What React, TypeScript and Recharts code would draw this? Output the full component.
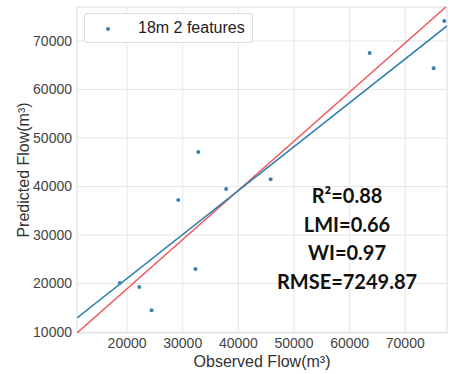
import React from 'react';
import {
    ComposedChart,
    Scatter,
    XAxis,
    YAxis,
    CartesianGrid,
    ReferenceLine,
    Legend,
} from 'recharts';

/* ── Data ────────────────────────────────────────────────────────────────── */
const observed  = [18700, 22200, 24400, 29200, 32300, 32800, 37800, 45800, 63600, 75100, 77000];
const predicted = [20100, 19300, 14500, 37200, 23000, 47100, 39500, 41500, 67500, 64400, 74100];

// fitted regression line end points and the 1:1 line end points
const fitX   = [11000, 77500];
const fitY   = [12900, 73100];
const idealX = [11000, 77300];
const idealY = [9800, 77000];

const xTicks = [20000, 30000, 40000, 50000, 60000, 70000];
const yTicks = [10000, 20000, 30000, 40000, 50000, 60000, 70000];
const X_DOMAIN: [number, number] = [11000, 77500];
const Y_DOMAIN: [number, number] = [9800, 77000];

const stats = ['R²=0.88', 'LMI=0.66', 'WI=0.97', 'RMSE=7249.87'];
const SERIES_NAME = '18m 2 features';

const points = observed.map((x, i) => ({ x, y: predicted[i] }));
const fitLine = fitX.map((x, i) => ({ x, y: fitY[i] }));
const idealLine = idealX.map((x, i) => ({ x, y: idealY[i] }));

const POINT_COLOR = '#3b7fb3';
const FIT_COLOR   = '#2f7fae';
const IDEAL_COLOR = '#ee5a5e';
const GRID_COLOR  = '#e6e6e6';
const TICK_FONT   = '"Liberation Sans", Arial, sans-serif';

const noShape = () => <g />;

/* ── Legend ──────────────────────────────────────────────────────────────── */
const LegendBox = () => (
    <div style={{
        background: '#fff',
        border: '1px solid #dcdcdc',
        borderRadius: 3,
        width: 169,
        height: 30,
        boxSizing: 'border-box',
        display: 'flex',
        alignItems: 'center',
        fontFamily: TICK_FONT,
        fontSize: 16,
        color: '#222',
    }}>
        <svg width={53} height={28}>
            <circle cx={23} cy={15} r={2} fill={POINT_COLOR} />
        </svg>
        <span>{SERIES_NAME}</span>
    </div>
);

const YLabel = ({ viewBox }: any) => {
    const cx = 23;
    const cy = viewBox.y + viewBox.height / 2;
    return (
        <text x={cx} y={cy} transform={`rotate(-90, ${cx}, ${cy})`}
              textAnchor="middle" dominantBaseline="central"
              fill="#333" fontSize={16} fontFamily={TICK_FONT}>
            Predicted Flow(m³)
        </text>
    );
};

export default function App() {
    return (
        <div style={{ position: 'absolute', left: 0, top: 0, width: 455, height: 374, background: '#fff' }}>
            <ComposedChart width={455} height={374} margin={{ top: 7, right: 8, left: 0, bottom: 0 }}>
                <CartesianGrid stroke={GRID_COLOR} strokeWidth={1} />
                <XAxis
                    type="number"
                    dataKey="x"
                    domain={X_DOMAIN}
                    ticks={xTicks}
                    allowDataOverflow
                    height={41}
                    tickSize={0}
                    tickMargin={5}
                    tickLine={false}
                    axisLine={{ stroke: GRID_COLOR }}
                    tick={{ fill: '#444', fontSize: 14, fontFamily: TICK_FONT }}
                    label={{ value: 'Observed Flow(m³)', position: 'insideBottom', offset: 7,
                             fill: '#333', fontSize: 16, fontFamily: TICK_FONT }}
                />
                <YAxis
                    type="number"
                    dataKey="y"
                    domain={Y_DOMAIN}
                    ticks={yTicks}
                    allowDataOverflow
                    width={77}
                    tickSize={0}
                    tickMargin={5}
                    tickLine={false}
                    axisLine={{ stroke: GRID_COLOR }}
                    tick={{ fill: '#444', fontSize: 14, fontFamily: TICK_FONT }}
                    label={<YLabel />}
                />
                <ReferenceLine x={X_DOMAIN[1]} stroke={GRID_COLOR} />
                <ReferenceLine y={Y_DOMAIN[1]} stroke={GRID_COLOR} />

                {/* middle/center alignment so the legend reserves no room in the plot */}
                <Legend
                    layout="horizontal"
                    verticalAlign="middle"
                    align="center"
                    content={<LegendBox />}
                    wrapperStyle={{ top: 13, left: 84, width: 'auto' }}
                />

                <Scatter data={idealLine} line={{ stroke: IDEAL_COLOR, strokeWidth: 1.5 }}
                         shape={noShape} legendType="none" isAnimationActive={false} />
                <Scatter data={fitLine} line={{ stroke: FIT_COLOR, strokeWidth: 1.5 }}
                         shape={noShape} legendType="none" isAnimationActive={false} />
                <Scatter name={SERIES_NAME} data={points} fill={POINT_COLOR}
                         shape={(p: any) => <circle cx={p.cx} cy={p.cy} r={2} fill={POINT_COLOR} />}
                         isAnimationActive={false} />
            </ComposedChart>

            <div style={{
                position: 'absolute', left: 247, top: 181, width: 200,
                textAlign: 'center', fontFamily: 'Lato, "Open Sans", sans-serif',
                fontWeight: 700, fontSize: 20, lineHeight: '28.5px', color: '#111',
            }}>
                {stats.map(s => <div key={s}>{s}</div>)}
            </div>
        </div>
    );
}
